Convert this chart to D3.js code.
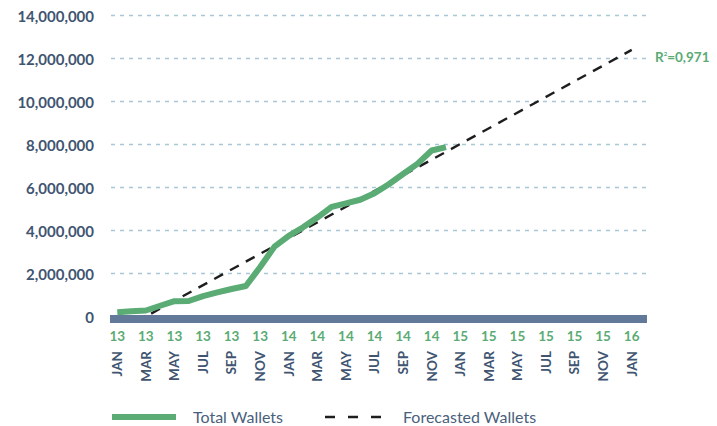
<!DOCTYPE html>
<html>
<head>
<meta charset="utf-8">
<script src="https://cdn.jsdelivr.net/npm/d3@7"></script>
<style>
html,body{margin:0;padding:0;background:#fff;}
svg{display:block;font-family:Lato,"Open Sans",sans-serif;}
</style>
</head>
<body>
<svg id="chart" width="717" height="426"></svg>
<script>
// ---- data ----
const months = ["JAN 13","FEB 13","MAR 13","APR 13","MAY 13","JUN 13","JUL 13","AUG 13","SEP 13","OCT 13","NOV 13","DEC 13",
  "JAN 14","FEB 14","MAR 14","APR 14","MAY 14","JUN 14","JUL 14","AUG 14","SEP 14","OCT 14","NOV 14","DEC 14",
  "JAN 15","FEB 15","MAR 15","APR 15","MAY 15","JUN 15","JUL 15","AUG 15","SEP 15","OCT 15","NOV 15","DEC 15","JAN 16"];
const tickMonths = ["JAN 13","MAR 13","MAY 13","JUL 13","SEP 13","NOV 13","JAN 14","MAR 14","MAY 14","JUL 14","SEP 14","NOV 14",
  "JAN 15","MAR 15","MAY 15","JUL 15","SEP 15","NOV 15","JAN 16"];
const totalMonths = ["JAN 13","FEB 13","MAR 13","APR 13","MAY 13","JUN 13","JUL 13","AUG 13","SEP 13","OCT 13","NOV 13","DEC 13",
  "JAN 14","FEB 14","MAR 14","APR 14","MAY 14","JUN 14","JUL 14","AUG 14","SEP 14","OCT 14","NOV 14","DEC 14"];
const totalWallets = [200000,240000,280000,500000,710000,720000,950000,1120000,1280000,1420000,2300000,3250000,
  3750000,4150000,4600000,5100000,5260000,5430000,5730000,6150000,6630000,7100000,7720000,7880000];
const forecastMonths = ["MAR 13","JAN 16"];
const forecastWallets = [0,12400000];
const yTicks = [0,2000000,4000000,6000000,8000000,10000000,12000000,14000000];
const rSquaredLabel = "0,971";
const legendLabels = ["Total Wallets","Forecasted Wallets"];

// ---- styles ----
const GREEN = "#5aab74", SLATE = "#3f5571", BAR = "#62799a", GRID = "#a9c7d6";

const svg = d3.select("#chart");
const x = d3.scalePoint().domain(months).range([117.3, 631.7]);
const y = d3.scaleLinear().domain([0, 14000000]).range([316.5, 15.5]);

// gridlines
svg.append("g").selectAll("line").data(yTicks.filter(d => d > 0)).join("line")
  .attr("x1", 111).attr("x2", 646)
  .attr("y1", d => y(d)).attr("y2", d => y(d))
  .attr("stroke", GRID).attr("stroke-width", 1.6).attr("stroke-dasharray", "4,5");

// y labels
const yAxis = d3.axisLeft(y).tickValues(yTicks).tickSize(0).tickPadding(0)
  .tickFormat(d => d3.format(",")(d));
const yg = svg.append("g").attr("transform", "translate(94,1.5)").call(yAxis);
yg.select(".domain").remove();
yg.selectAll("text").attr("font-size", 15).attr("font-weight", 700).attr("fill", SLATE)
  .attr("font-family", "Lato, sans-serif");

// forecast line
const fData = forecastMonths.map((m, i) => ({m, v: forecastWallets[i]}));
svg.append("path").datum(fData)
  .attr("d", d3.line().x(d => x(d.m)).y(d => y(d.v)))
  .attr("fill", "none").attr("stroke", "#1e1e1e").attr("stroke-width", 2.4)
  .attr("stroke-dasharray", "10,8").attr("stroke-dashoffset", -6);

// axis bar
svg.append("rect").attr("x", 110).attr("width", 537)
  .attr("y", y(0) - 1.5).attr("height", 8).attr("fill", BAR);

// total line
const tData = totalMonths.map((m, i) => ({m, v: totalWallets[i]}));
svg.append("path").datum(tData)
  .attr("d", d3.line().x(d => x(d.m)).y(d => y(d.v)))
  .attr("fill", "none").attr("stroke", GREEN).attr("stroke-width", 6)
  .attr("stroke-linejoin", "round");

// x labels
const xg = svg.append("g");
tickMonths.forEach(m => {
  const [mon, yr] = m.split(" ");
  xg.append("text").attr("x", x(m)).attr("y", 341)
    .attr("text-anchor", "middle").attr("font-size", 13.5).attr("font-weight", 700)
    .attr("fill", GREEN).text(yr);
  xg.append("text").attr("transform", `translate(${x(m)},351) rotate(-90)`)
    .attr("dy", "0.36em").attr("text-anchor", "end")
    .attr("font-size", 13.5).attr("font-weight", 700).attr("fill", SLATE).text(mon);
});

// R squared
const r = svg.append("text").attr("x", 655).attr("y", 62)
  .attr("font-size", 13.5).attr("font-weight", 700).attr("fill", GREEN);
r.append("tspan").text("R");
r.append("tspan").attr("font-size", 6).attr("dy", -6).text("2");
r.append("tspan").attr("dy", 6).text("=" + rSquaredLabel);

// legend
const lg = svg.append("g");
lg.append("line").attr("x1", 112).attr("x2", 176).attr("y1", 417).attr("y2", 417)
  .attr("stroke", GREEN).attr("stroke-width", 6);
lg.append("text").attr("x", 193).attr("y", 423).attr("font-size", 16)
  .attr("fill", "#4a5f7c").text(legendLabels[0]);
lg.append("line").attr("x1", 325).attr("x2", 383).attr("y1", 417).attr("y2", 417)
  .attr("stroke", "#1e1e1e").attr("stroke-width", 2.4).attr("stroke-dasharray", "10,13");
lg.append("text").attr("x", 403).attr("y", 423).attr("font-size", 16)
  .attr("fill", "#4a5f7c").text(legendLabels[1]);
</script>
</body>
</html>
